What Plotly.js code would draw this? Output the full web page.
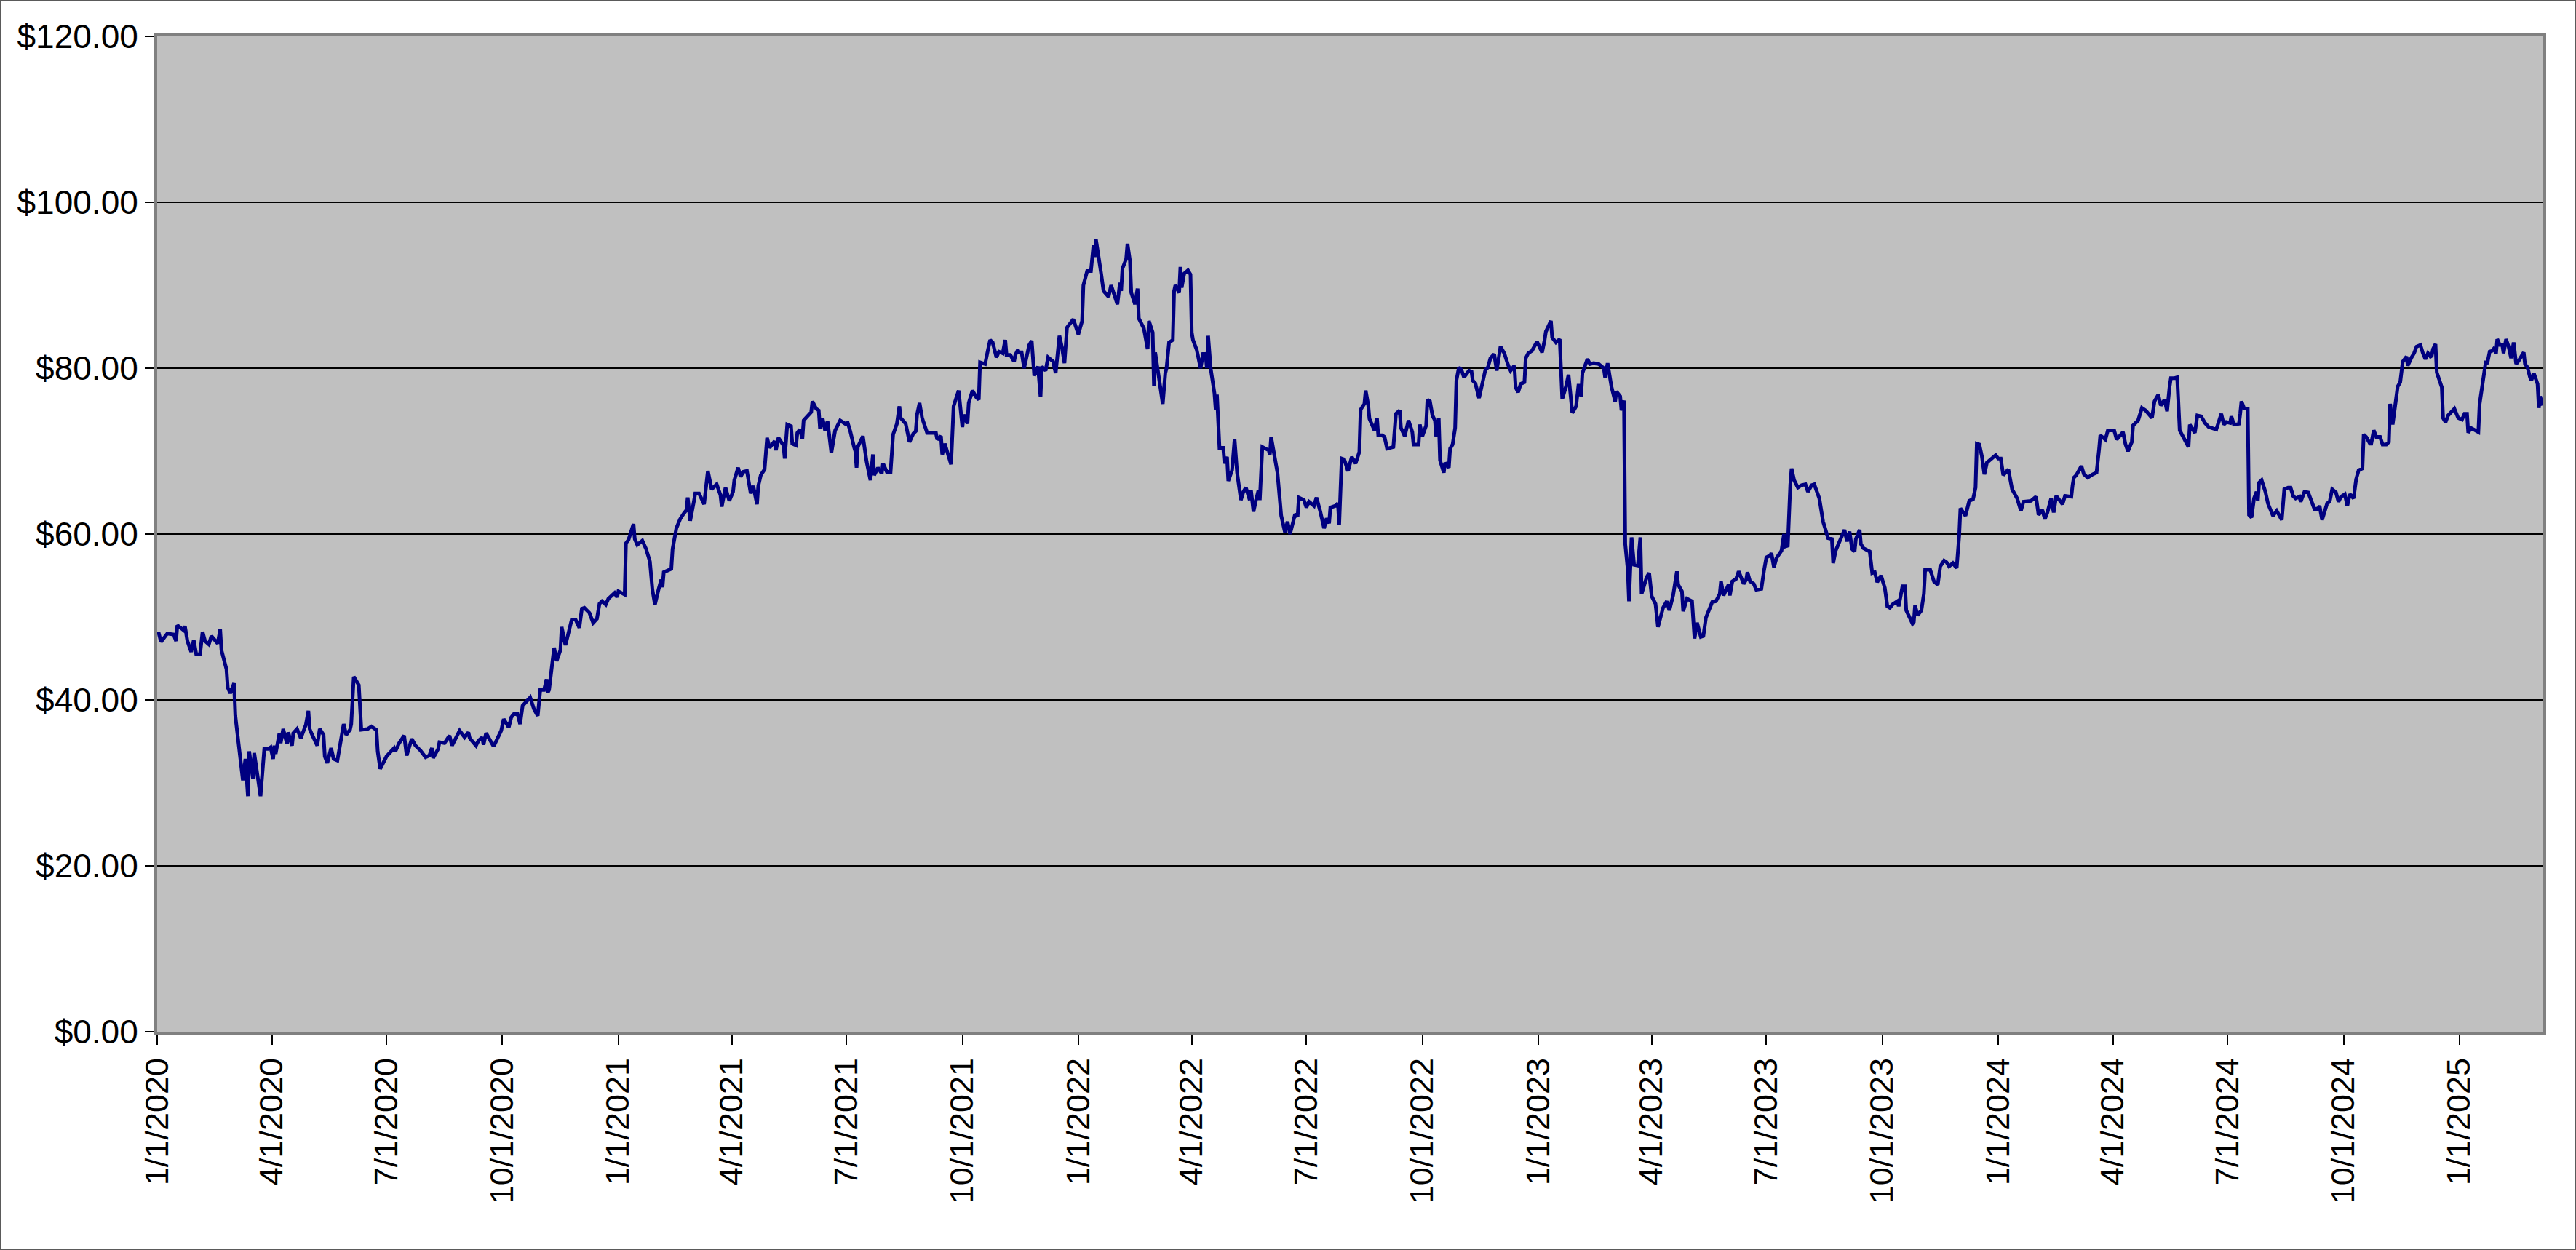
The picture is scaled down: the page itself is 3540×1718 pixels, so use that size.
<!DOCTYPE html>
<html>
<head>
<meta charset="utf-8">
<script src="https://cdn.plot.ly/plotly-3.0.1.min.js"></script>
<style>
  html, body { margin: 0; padding: 0; background: #fff; }
  #wrap { position: relative; width: 3540px; height: 1718px; }
  #chart { width: 3540px; height: 1718px; }
  #frame { position: absolute; left: 0; top: 0; width: 3540px; height: 1718px;
           box-sizing: border-box; border: 2px solid #5a5a5a; pointer-events: none; }
</style>
</head>
<body>
<div id="wrap">
  <div id="chart"></div>
  <div id="frame"></div>
</div>
<script>
// Price readings as [days since 1/1/2020, closing price $]
const prices2020 = [
  [1,48.2],[3,47.0],[8,48.0],[13,47.9],[15,47.1],[16,49.0],[21,48.4],[22,48.9],[24,47.1],[27,45.8],
  [29,47.2],[31,45.5],[34,45.5],[36,48.2],[38,47.1],[41,46.7],[43,47.7],[48,46.8],[50,48.5],[51,46.0],
  [55,43.7],[56,41.5],[58,40.8],[61,42.0],[62,38.1],[65,34.6],[68,30.3],[70,32.9],[72,28.4],[73,33.8],
  [76,30.5],[77,33.6],[79,31.4],[82,28.4],[85,34.1],[88,34.1],[90,34.3],[92,32.9],[93,34.5],[94,33.5],
  [97,36.0],[98,34.8],[100,36.5],[103,34.7],[104,36.1],[107,34.5],[108,36.0],[111,36.5],[114,35.4],[118,37.0],
  [120,38.7],[121,36.5],[123,35.8],[127,34.5],[129,36.5],[132,35.8],[133,33.2],[135,32.4],[138,34.2],[140,32.9],
  [143,32.7],[148,37.1],[150,35.8],[153,36.4],[154,37.1],[156,42.8],[160,41.8],[162,36.4],[167,36.5],[170,36.8],
  [174,36.4],[175,33.8],[177,31.7],[182,33.2],[188,34.2],[189,33.8],[192,34.8],[196,35.7],[198,33.3],[202,35.3],
  [205,34.5],[209,33.9],[213,33.1],[216,33.3],[218,34.2],[219,33.0],[223,34.1],[224,34.9],[228,34.8],[232,35.7],
  [234,34.5],[240,36.3],[244,35.5],[247,36.1],[248,35.4],[253,34.5],[255,35.1],[258,35.5],[259,34.6],[261,36.0],
  [267,34.4],[271,35.8],[273,36.3],[275,37.7],[279,36.7],[281,37.9],[283,38.3],[286,38.3],[288,37.1],[290,39.3],
  [296,40.3],[299,38.9],[302,38.1],[304,41.2],[307,41.2],[309,42.5],[310,40.9],[311,41.2],[315,46.3],[317,44.7],
  [320,46.0],[321,48.8],[324,46.6],[329,49.7],[332,49.7],[335,48.7],[337,51.0],[339,51.1],[343,50.5],[346,49.3],
  [349,49.8],[351,51.6],[353,51.9],[356,51.5],[358,52.2],[363,52.9],[365,52.4]
];
const prices2021 = [
  [366,53.1],[371,52.7],[372,58.9],[374,59.3],[378,61.2],[379,59.4],[381,58.7],[385,59.2],[388,58.2],[391,56.7],
  [393,53.3],[395,51.5],[398,53.4],[400,54.5],[401,53.6],[402,55.4],[408,55.8],[409,58.2],[412,60.7],[415,61.8],
  [418,62.5],[420,62.9],[421,64.4],[423,61.6],[426,64.0],[427,64.9],[430,64.9],[434,63.6],[437,67.6],[440,65.4],
  [444,66.0],[447,64.7],[448,63.3],[451,65.6],[454,64.0],[457,65.1],[458,66.5],[461,68.0],[463,66.9],[465,67.5],
  [468,67.6],[469,66.5],[471,64.9],[473,65.8],[476,63.6],[477,65.8],[479,67.1],[482,67.8],[483,69.6],[484,71.6],
  [486,70.4],[490,71.2],[491,70.1],[493,71.6],[497,70.7],[498,69.1],[500,73.2],[503,73.0],[504,70.9],[507,70.7],
  [508,72.2],[510,72.6],[512,71.5],[513,73.7],[519,74.7],[520,76.0],[523,75.1],[525,74.9],[526,72.7],[528,74.0],
  [530,72.5],[532,73.6],[535,69.8],[538,72.5],[542,73.7],[546,73.3],[548,73.4],[550,72.4],[553,70.5],[554,70.0],
  [555,68.0],[556,70.5],[560,71.8],[563,68.7],[566,66.5],[568,69.6],[569,67.1],[572,68.0],[575,67.3],[576,68.5],
  [579,67.5],[582,67.5],[584,72.0],[587,73.3],[589,75.4],[590,74.0],[594,73.3],[597,71.1],[600,72.1],[602,72.4],
  [603,74.4],[605,75.8],[607,74.0],[609,73.1],[611,72.2],[615,72.2],[618,72.2],[619,71.4],[622,71.8],[623,69.6],
  [625,70.9],[630,68.4],[632,75.4],[636,77.3],[639,72.9],[640,74.4],[643,73.3],[644,75.8],[647,77.3],[650,76.5],
  [652,76.2],[653,80.7],[657,80.5],[659,82.0],[661,83.4],[663,83.1],[666,81.3],[668,82.0],[671,81.8],[673,83.4],
  [674,81.6],[677,81.6],[680,80.8],[681,81.6],[683,82.2],[684,81.9],[686,81.9],[688,80.0],[692,82.8],[694,83.3],
  [696,79.1],[699,80.2],[701,76.5],[702,80.2],[705,79.7],[707,81.3],[711,80.8],[713,79.4],[716,83.9],[718,82.5],
  [720,80.6],[722,84.9],[727,85.9]
];
const prices2022 = [
  [731,84.1],[734,85.7],[735,90.0],[738,91.7],[741,91.7],[743,94.8],[744,93.4],[745,95.5],[749,91.5],[751,89.3],
  [755,88.6],[757,90.0],[762,87.7],[764,90.3],[765,89.3],[766,92.0],[769,93.2],[770,95.0],[772,92.9],[773,89.1],
  [776,87.7],[778,89.6],[779,86.0],[783,84.8],[786,82.3],[787,85.7],[790,84.3],[791,77.9],[792,81.9],[795,79.1],
  [798,75.7],[800,79.4],[801,80.0],[803,83.1],[806,83.4],[807,89.3],[808,90.0],[811,89.1],[812,92.2],[813,89.7],
  [815,91.4],[818,91.8],[820,91.3],[821,84.3],[822,83.4],[825,82.2],[828,80.0],[830,81.7],[832,81.7],[833,80.0],
  [834,83.9],[836,80.0],[839,77.0],[840,75.0],[841,76.8],[843,70.4],[846,70.4],[847,68.5],[849,69.3],[850,66.4],
  [853,67.7],[855,71.4],[857,67.4],[860,64.1],[862,65.1],[864,65.6],[867,64.1],[868,65.3],[870,62.7],[872,64.1],
  [874,65.3],[875,64.1],[877,70.5],[882,70.1],[883,69.6],[884,71.7],[886,69.9],[889,67.4],[892,62.2],[895,60.2],
  [897,61.5],[899,60.0],[903,62.4],[905,62.1],[906,64.4],[910,64.1],[912,63.2],[914,63.9],[918,63.4],[920,64.4],
  [923,62.7],[926,60.7],[928,61.9],[930,61.3],[931,63.2],[935,63.4],[937,63.7],[938,61.1],[940,69.1],[942,69.0],
  [945,67.6],[948,69.3],[951,68.5],[954,69.9],[955,75.0],[958,75.7],[959,77.3],[961,75.6],[962,73.9],[966,72.5],
  [968,74.0],[969,71.9],[972,71.9],[974,71.7],[976,70.3],[981,70.5],[983,74.5],[986,74.9],[987,72.8],[990,71.8],
  [993,73.7],[996,72.3],[997,70.8],[1001,70.8],[1002,73.2],[1004,71.8],[1007,73.1],[1008,76.2],[1010,76.0],[1012,74.3],
  [1014,73.7],[1015,71.7],[1017,74.0],[1018,68.9],[1021,67.4],[1022,68.6],[1025,68.0],[1026,70.3],[1028,70.8],[1030,72.8],
  [1031,78.5],[1033,80.1],[1035,79.8],[1037,78.9],[1041,79.7],[1043,79.6],[1044,78.5],[1046,78.2],[1049,76.4],[1052,78.2],
  [1054,79.8],[1056,80.1],[1058,81.2],[1061,81.7],[1063,79.7],[1066,82.6],[1069,81.8],[1072,80.4],[1074,79.7],[1077,80.3],
  [1078,77.7],[1080,77.1],[1082,78.1],[1085,78.3],[1086,81.2],[1088,81.8],[1091,82.1],[1095,83.2]
];
const prices2023 = [
  [1099,81.9],[1101,83.4],[1102,84.4],[1106,85.7],[1107,83.7],[1110,83.1],[1113,83.5],[1115,76.3],[1118,77.8],[1120,79.2],
  [1123,74.6],[1126,75.4],[1128,78.1],[1130,76.6],[1131,79.4],[1135,81.1],[1137,80.5],[1140,80.6],[1144,80.5],[1148,80.0],
  [1149,78.9],[1151,80.6],[1154,77.8],[1157,76.0],[1158,77.2],[1161,76.6],[1162,74.9],[1164,76.1],[1165,58.8],[1167,55.7],
  [1168,51.9],[1170,59.6],[1172,56.3],[1175,56.2],[1177,59.6],[1178,52.8],[1182,54.8],[1184,55.3],[1186,52.5],[1189,51.6],
  [1191,48.8],[1195,51.1],[1198,51.9],[1200,50.8],[1203,52.6],[1206,55.5],[1207,53.9],[1210,53.1],[1211,50.7],[1214,52.2],
  [1218,51.9],[1220,47.4],[1222,49.3],[1225,47.6],[1227,47.7],[1229,49.9],[1232,51.0],[1234,51.8],[1237,51.9],[1240,52.8],
  [1241,54.3],[1243,52.6],[1247,53.9],[1248,52.6],[1250,54.3],[1253,54.6],[1255,55.5],[1257,54.6],[1259,54.0],[1261,54.5],
  [1262,55.4],[1264,54.3],[1267,54.0],[1269,53.3],[1273,53.4],[1275,55.5],[1277,57.2],[1280,57.4],[1281,57.7],[1283,56.0],
  [1285,57.1],[1289,58.0],[1291,60.0],[1292,58.5],[1294,58.6],[1296,66.0],[1297,67.9],[1299,66.5],[1302,65.6],[1305,65.9],
  [1308,66.0],[1310,65.1],[1313,65.9],[1315,66.0],[1319,64.3],[1322,61.5],[1326,59.5],[1329,59.4],[1330,56.5],[1332,58.0],
  [1336,59.3],[1339,60.5],[1341,59.1],[1343,60.3],[1345,58.2],[1347,57.9],[1348,59.4],[1351,60.5],[1352,58.8],[1354,58.3],
  [1359,57.9],[1361,55.3],[1363,55.4],[1365,54.2],[1368,55.0],[1371,53.5],[1373,51.3],[1375,51.1],[1377,51.5],[1381,51.9],
  [1382,51.3],[1385,53.7],[1387,53.7],[1388,50.8],[1393,49.2],[1394,49.4],[1395,51.4],[1397,50.2],[1400,50.8],[1402,52.8],
  [1403,55.7],[1407,55.7],[1410,54.3],[1411,54.2],[1413,53.9],[1415,56.1],[1418,56.8],[1420,56.6],[1422,56.1],[1425,56.5],
  [1428,55.9],[1430,59.8],[1431,63.1],[1435,62.2],[1438,64.0],[1441,64.2],[1443,65.6],[1444,70.9],[1446,70.8],[1448,69.4],
  [1450,67.2],[1452,68.6],[1457,69.2],[1459,69.5]
];
const prices2024 = [
  [1461,69.1],[1463,69.1],[1465,67.1],[1469,67.8],[1472,65.4],[1476,64.3],[1479,62.8],[1481,63.9],[1487,64.0],[1489,64.2],
  [1491,64.5],[1493,62.3],[1496,62.9],[1498,61.8],[1500,62.6],[1503,64.3],[1505,62.6],[1507,64.6],[1512,63.6],[1514,64.6],
  [1519,64.5],[1520,65.9],[1521,66.8],[1523,67.1],[1527,68.2],[1529,67.2],[1532,66.8],[1536,67.2],[1539,67.4],[1541,70.2],
  [1542,71.9],[1546,71.4],[1548,72.5],[1553,72.5],[1555,71.4],[1560,72.3],[1562,70.8],[1564,70.0],[1567,71.1],[1568,73.1],
  [1572,73.7],[1575,75.2],[1578,74.9],[1583,74.0],[1585,76.0],[1588,76.8],[1590,75.5],[1593,76.2],[1595,74.8],[1597,77.8],
  [1598,78.8],[1601,78.8],[1603,78.9],[1605,72.5],[1609,71.4],[1612,70.5],[1613,73.2],[1617,72.2],[1619,74.3],[1622,74.2],
  [1625,73.4],[1628,72.9],[1634,72.6],[1636,73.7],[1638,74.5],[1640,73.2],[1642,73.5],[1645,73.4],[1646,74.2],[1648,73.2],
  [1652,73.3],[1653,74.5],[1654,76.0],[1656,75.2],[1659,75.1],[1660,62.3],[1662,62.0],[1664,64.3],[1666,65.1],[1667,64.0],
  [1668,66.2],[1670,66.5],[1673,65.1],[1675,63.7],[1677,63.0],[1679,62.2],[1682,62.8],[1684,62.3],[1686,61.7],[1688,65.4],
  [1691,65.6],[1693,65.6],[1695,64.6],[1697,64.3],[1700,64.5],[1701,63.9],[1704,65.1],[1707,65.0],[1708,64.6],[1710,63.7],
  [1712,63.0],[1715,63.1],[1716,63.4],[1718,61.7],[1720,62.8],[1722,63.7],[1724,63.9],[1726,65.4],[1729,65.0],[1731,63.9],
  [1733,64.5],[1736,64.8],[1738,63.4],[1740,64.8],[1743,64.3],[1745,66.6],[1747,67.7],[1750,67.9],[1751,72.0],[1753,71.7],
  [1756,70.9],[1757,70.9],[1759,72.5],[1761,71.7],[1764,71.7],[1766,70.8],[1769,70.8],[1771,71.1],[1772,75.7],[1774,73.2],
  [1776,75.5],[1778,77.8],[1780,78.3],[1781,80.1],[1782,80.8],[1785,81.4],[1786,80.3],[1789,81.3],[1791,81.8],[1793,82.6],
  [1796,82.8],[1798,81.8],[1800,81.1],[1802,81.8],[1804,81.4],[1805,81.5],[1806,82.3],[1808,82.9],[1809,79.5],[1813,77.7],
  [1814,74.0],[1816,73.5],[1818,74.3],[1823,75.1],[1826,74.0]
];
const prices2025 = [
  [1829,73.8],[1831,74.5],[1833,74.5],[1834,72.2],[1836,72.8],[1839,72.6],[1842,72.3],[1843,75.7],[1845,78.1],[1848,80.9],
  [1849,80.5],[1851,82.0],[1853,82.1],[1855,82.5],[1856,81.7],[1857,83.5],[1859,82.8],[1861,82.8],[1862,81.8],[1864,83.5],
  [1866,82.6],[1868,81.2],[1870,83.1],[1872,80.5],[1874,80.9],[1878,81.9],[1879,80.5],[1881,80.1],[1883,78.9],[1884,78.5],
  [1886,79.4],[1889,78.1],[1890,75.2],[1891,76.6],[1893,75.5]
];

const tickLabels = [
  '1/1/2020','4/1/2020','7/1/2020','10/1/2020',
  '1/1/2021','4/1/2021','7/1/2021','10/1/2021',
  '1/1/2022','4/1/2022','7/1/2022','10/1/2022',
  '1/1/2023','4/1/2023','7/1/2023','10/1/2023',
  '1/1/2024','4/1/2024','7/1/2024','10/1/2024',
  '1/1/2025'
];
const startDate = '2020-01-01';
const endDate = '2025-03-08 12:00';

const DAY_MS = 86400000;
const origin = Date.UTC(2020, 0, 1);
const toIso = d => new Date(origin + d * DAY_MS).toISOString().slice(0, 10);
const labelToIso = s => {
    const [m, d, y] = s.split('/').map(Number);
    return new Date(Date.UTC(y, m - 1, d)).toISOString().slice(0, 10);
};

const all = [].concat(prices2020, prices2021, prices2022, prices2023, prices2024, prices2025);

const font = 'Arial, "Liberation Sans", sans-serif';

const trace = {
    x: all.map(p => toIso(p[0])),
    y: all.map(p => p[1]),
    type: 'scatter',
    mode: 'lines',
    line: { color: '#000080', width: 5 },
    hoverinfo: 'skip',
};

const layout = {
    width: 3540,
    height: 1718,
    margin: { l: 216, r: 45, t: 50, b: 300 },
    paper_bgcolor: '#ffffff',
    plot_bgcolor: '#c0c0c0',
    showlegend: false,
    font: { family: font, color: '#000', size: 45 },
    xaxis: {
        type: 'date',
        range: [startDate, endDate],
        tickmode: 'array',
        tickvals: tickLabels.map(labelToIso),
        ticktext: tickLabels,
        tickangle: -90,
        ticks: 'outside',
        ticklen: 14,
        tickwidth: 2,
        tickcolor: '#000',
        tickfont: { family: font, size: 45, color: '#000' },
        showgrid: false,
        showline: true,
        mirror: true,
        linecolor: '#808080',
        linewidth: 4,
        zeroline: false,
    },
    yaxis: {
        range: [0, 120],
        dtick: 20,
        tick0: 0,
        tickprefix: '$',
        tickformat: '.2f',
        ticks: 'outside',
        ticklen: 13,
        tickwidth: 2,
        tickcolor: '#000',
        tickfont: { family: font, size: 46, color: '#000' },
        showgrid: true,
        gridcolor: '#000',
        gridwidth: 1.5,
        showline: true,
        mirror: true,
        linecolor: '#808080',
        linewidth: 4,
        zeroline: true,
        zerolinecolor: '#000',
        zerolinewidth: 2,
    },
    hovermode: false,
};

Plotly.newPlot('chart', [trace], layout, { displayModeBar: false, staticPlot: true });
</script>
</body>
</html>
